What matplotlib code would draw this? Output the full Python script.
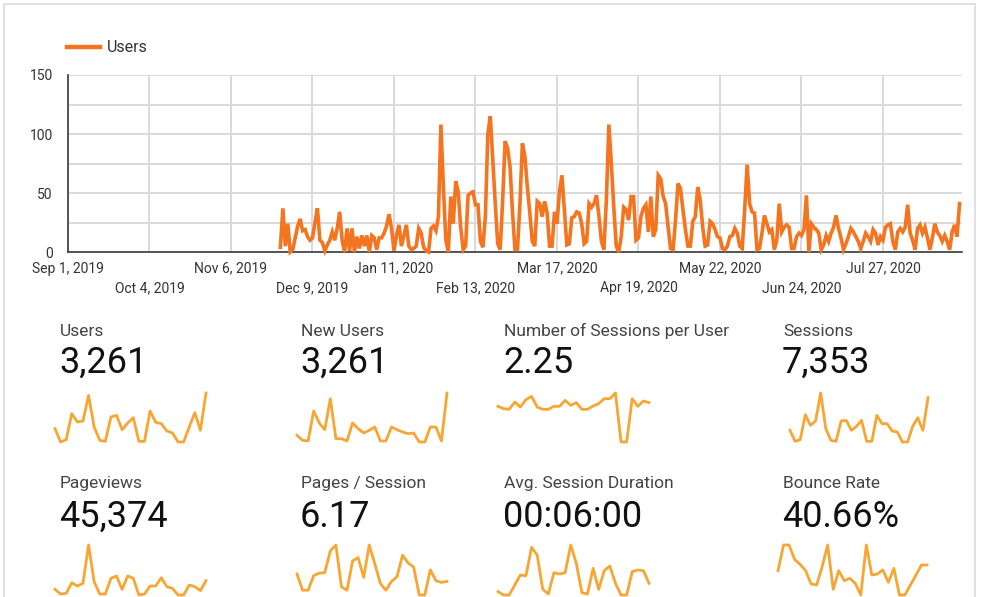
import matplotlib
matplotlib.use('Agg')
import pandas as pd
import matplotlib.pyplot as plt
from matplotlib.patches import Rectangle

plt.rcParams['font.family'] = ['Roboto', 'DejaVu Sans']

W, H = 982, 597

# daily users, first day with data is Nov 26 2019
users_start = '2019-11-26'
users_daily = [
    4, 37, 5, 24, 0, 2, 12, 22, 28, 18, 19, 13, 10, 12, 25, 37, 10, 8, 1, 6,
    10, 17, 10, 20, 34, 10, 0, 20, 1, 20, 0, 13, 3, 14, 5, 14, 0, 14, 12, 2,
    12, 12, 16, 22, 32, 20, 1, 14, 23, 5, 14, 23, 5, 2, 3, 5, 20, 16, 4, 1,
    0, 20, 22, 18, 30, 108,
    55, 10, 0, 47, 24, 60, 51, 21, 2, 5, 48, 50, 51, 40, 40, 9, 4, 30, 100, 115,
    78, 41, 7, 2, 44, 94, 88, 72, 33, 2, 2, 41, 92, 81, 55, 33, 9, 5, 43, 41,
    30, 43, 33, 5, 5, 34, 24, 51, 65, 36, 6, 7, 29, 30, 34, 33, 24, 7, 9, 41,
    38, 41, 48, 30, 9, 2, 44, 108,
    75, 38, 5, 0, 13, 38, 36, 27, 47, 47, 10, 12, 30, 37, 40, 17, 47, 13, 19, 65,
    62, 47, 41, 21, 3, 2, 27, 58, 54, 36, 19, 5, 5, 26, 30, 55, 44, 21, 5, 6,
    26, 24, 19, 13, 12, 3, 2, 5, 13, 14, 20, 16, 5, 3, 36, 74, 41, 34, 33, 2,
    3, 16, 31, 24, 17, 19, 2, 10, 41,
    17, 21, 23, 21, 3, 3, 13, 16, 14, 19, 48, 0, 24, 21, 19, 16, 2, 6, 14, 9,
    16, 21, 31, 20, 12, 2, 7, 13, 20, 17, 13, 9, 3, 9, 16, 13, 9, 19, 16, 6,
    13, 10, 21, 23, 24, 9, 2, 17, 20, 17, 21, 40, 16, 10, 2, 20, 23, 16, 21, 12,
    2, 12, 24, 17, 14, 9, 14, 9, 2, 17, 23, 13, 41,
]

x_start = '2019-09-01'
x_end = '2020-08-28'
tick_dates = ['2019-09-01', '2019-10-04', '2019-11-06', '2019-12-09', '2020-01-11',
              '2020-02-13', '2020-03-17', '2020-04-19', '2020-05-22', '2020-06-24',
              '2020-07-27']
y_ticks = [0, 50, 100, 150]
y_minor = [25, 75, 125]

kpi_labels = ['Users', 'New Users', 'Number of Sessions per User', 'Sessions',
              'Pageviews', 'Pages / Session', 'Avg. Session Duration', 'Bounce Rate']
kpi_values = ['3,261', '3,261', '2.25', '7,353',
              '45,374', '6.17', '00:06:00', '40.66%']

spark_users = [45, 5, 12, 90, 65, 68, 145, 50, 10, 7, 80, 85, 42, 62, 78, 7, 7, 98, 64, 60,
               38, 32, 5, 5, 50, 93, 40, 152]
spark_new_users = [25, 10, 8, 98, 62, 42, 135, 15, 15, 8, 62, 45, 32, 40, 50, 8, 8, 50, 42, 35,
                   30, 32, 5, 5, 50, 50, 8, 152]
spark_sess_per_user = [112, 105, 103, 125, 110, 132, 142, 110, 103, 103, 112, 112, 130, 115,
                       123, 103, 103, 113, 120, 135, 135, 152, 5, 5, 135, 112, 128, 123]
spark_sessions = [40, 7, 12, 87, 55, 68, 152, 45, 10, 7, 68, 70, 40, 52, 70, 7, 7, 85, 60, 60,
                  38, 35, 5, 5, 52, 78, 40, 138]
spark_pageviews = [22, 8, 10, 42, 32, 40, 155, 45, 8, 8, 55, 62, 22, 62, 55, 5, 8, 32, 32, 57,
                   30, 25, 5, 5, 35, 30, 18, 48]
spark_pages_sess = [70, 22, 22, 65, 72, 74, 138, 155, 32, 22, 108, 118, 60, 155, 100, 42, 22,
                    48, 62, 125, 102, 90, 8, 8, 82, 50, 45, 48]
spark_duration = [15, 5, 5, 35, 65, 63, 148, 125, 22, 8, 72, 68, 72, 155, 100, 12, 8, 85, 22,
                  78, 92, 40, 5, 5, 75, 80, 78, 40]
spark_bounce = [78, 155, 155, 112, 97, 78, 38, 35, 90, 155, 22, 78, 48, 55, 40, 5, 155, 65, 68,
                80, 43, 85, 5, 5, 35, 65, 95, 95]
sparks = [spark_users, spark_new_users, spark_sess_per_user, spark_sessions,
          spark_pageviews, spark_pages_sess, spark_duration, spark_bounce]

LINE_COLOR = '#f4741f'
SPARK_COLOR = '#f7a633'
GRID_COLOR = '#d9d9d9'
TEXT_COLOR = '#333333'


def px_box(left, top, right, bottom):
    return [left / W, 1 - bottom / H, (right - left) / W, (bottom - top) / H]


fig = plt.figure(figsize=(W / 100, H / 100), dpi=100)

# card border
fig.add_artist(Rectangle((4 / W, -0.1), (975 - 4) / W, 1.1 - 4 / H, transform=fig.transFigure,
                         fill=False, edgecolor='#dadada', lw=1.2))

# main time series
ax = fig.add_axes(px_box(68, 75, 962, 252))
dates = pd.date_range(users_start, periods=len(users_daily), freq='D')
ax.plot(dates, users_daily, color=LINE_COLOR, lw=2.6, solid_joinstyle='miter', label='Users',
        clip_on=False, zorder=3)
ax.set_xlim(pd.Timestamp(x_start), pd.Timestamp(x_end))
ax.set_ylim(0, 150)

ticks = pd.to_datetime(tick_dates)
labels = [f'{d:%b} {d.day}, {d.year}' for d in ticks]
ax.set_xticks(ticks[::2], labels[::2])
ax.set_xticks(ticks[1::2], labels[1::2], minor=True)
ax.set_yticks(y_ticks)
ax.set_yticks(y_minor, minor=True)
ax.tick_params(axis='x', which='major', length=0, pad=7, labelsize=10, labelcolor=TEXT_COLOR)
ax.tick_params(axis='x', which='minor', length=0, pad=21, labelsize=10, labelcolor=TEXT_COLOR)
ax.tick_params(axis='y', which='both', length=0, pad=11, labelsize=10, labelcolor=TEXT_COLOR)
ax.grid(True, which='both', color=GRID_COLOR, lw=1.4)
ax.set_axisbelow(True)
for side in ['top', 'right']:
    ax.spines[side].set_visible(False)
for side in ['left', 'bottom']:
    ax.spines[side].set_color('#3a3a3a')
    ax.spines[side].set_linewidth(1.2)

ax.legend(loc='center left', bbox_to_anchor=(67 / W, 1 - 48 / H), bbox_transform=fig.transFigure,
          frameon=False, borderpad=0, borderaxespad=0, handlelength=2.05, handletextpad=0.45,
          fontsize=11.5, labelcolor=TEXT_COLOR)
for line in ax.get_legend().get_lines():
    line.set_linewidth(3.2)

# KPI tiles
col_x = [60, 301, 504, 783]
label_y = [336, 488]
value_y = [373, 527]
spark_x = [(55, 206), (297, 447), (498, 649), (790, 928),
           (55, 206), (297, 447), (498, 649), (778, 927)]
spark_y = [(393, 442), (545, 595)]

for i, (lab, val, vals) in enumerate(zip(kpi_labels, kpi_values, sparks)):
    row, col = divmod(i, 4)
    fig.text(col_x[col] / W, 1 - label_y[row] / H, lab, fontsize=12.5, color='#444444',
             va='baseline')
    fig.text(col_x[col] / W - 0.001, 1 - value_y[row] / H, val, fontsize=26, color='#111111',
             va='baseline')
    x0, x1 = spark_x[i]
    y0, y1 = spark_y[row]
    sax = fig.add_axes(px_box(x0, y0, x1, y1))
    sax.plot(range(len(vals)), vals, color=SPARK_COLOR, lw=2.0, clip_on=False)
    sax.set_xlim(0, len(vals) - 1)
    sax.set_ylim(min(vals), max(vals))
    sax.axis('off')

fig.savefig('out.png', dpi=100)
